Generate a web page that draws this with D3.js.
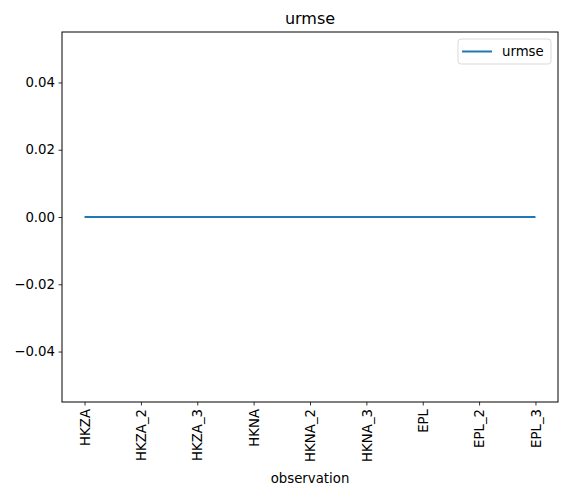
<!DOCTYPE html>
<html>
<head>
<meta charset="utf-8">
<script src="https://d3js.org/d3.v7.min.js"></script>
<style>
  body { margin: 0; background: #fff; }
  text { font-family: "DejaVu Sans", sans-serif; fill: #000; }
</style>
</head>
<body>
<svg id="chart"></svg>
<script>
var categories = ["HKZA", "HKZA_2", "HKZA_3", "HKNA", "HKNA_2", "HKNA_3", "EPL", "EPL_2", "EPL_3"];
var urmse = [0, 0, 0, 0, 0, 0, 0, 0, 0];
var yTicks = [-0.04, -0.02, 0.00, 0.02, 0.04];

const width = 567, height = 496;
const margin = { top: 32, right: 9, bottom: 94, left: 62 };
const plotW = width - margin.left - margin.right;
const plotH = height - margin.top - margin.bottom;

var svg = d3.select("#chart")
    .attr("width", width)
    .attr("height", height);

var g = svg.append("g")
    .attr("transform", `translate(${margin.left},${margin.top})`);

const x = d3.scaleLinear()
    .domain([-0.4, categories.length - 1 + 0.4])
    .range([0, plotW]);

const y = d3.scaleLinear()
    .domain([-0.055, 0.055])
    .range([plotH, 0]);

// axes
var xAxis = d3.axisBottom(x)
    .tickValues(d3.range(categories.length))
    .tickFormat(i => categories[i])
    .tickSizeOuter(0)
    .tickSize(3.5)
    .tickPadding(3.5);

var xg = g.append("g")
    .attr("transform", `translate(0,${plotH})`)
    .call(xAxis);
xg.select(".domain").remove();
xg.selectAll("text")
    .attr("font-size", "13.3px")
    .attr("transform", "rotate(-90)")
    .attr("text-anchor", "end")
    .attr("x", -7)
    .attr("y", 0)
    .attr("dy", "0.35em");

var yAxis = d3.axisLeft(y)
    .tickValues(yTicks)
    .tickFormat(d => d3.format(".2f")(d).replace("-", "\u2212"))
    .tickSizeOuter(0)
    .tickSize(3.5)
    .tickPadding(3.5);

var yg = g.append("g").call(yAxis);
yg.select(".domain").remove();
yg.selectAll("text").attr("font-size", "13.3px");
g.selectAll(".tick line").attr("stroke", "#000").attr("stroke-width", 0.8);

// frame
g.append("rect")
    .attr("width", plotW)
    .attr("height", plotH)
    .attr("fill", "none")
    .attr("stroke", "#000")
    .attr("stroke-width", 1);

// line
var line = d3.line()
    .x((d, i) => x(i))
    .y(d => y(d));

g.append("path")
    .datum(urmse)
    .attr("d", line)
    .attr("fill", "none")
    .attr("stroke", "#1f77b4")
    .attr("stroke-width", 2);

// title
svg.append("text")
    .attr("x", margin.left + plotW / 2)
    .attr("y", 24)
    .attr("text-anchor", "middle")
    .attr("font-size", "16px")
    .text("urmse");

// x label
svg.append("text")
    .attr("x", margin.left + plotW / 2)
    .attr("y", 483)
    .attr("text-anchor", "middle")
    .attr("font-size", "13.3px")
    .text("observation");

// legend
var lg = svg.append("g").attr("transform", "translate(458,39)");
lg.append("rect")
    .attr("width", 93)
    .attr("height", 25)
    .attr("rx", 3)
    .attr("fill", "#fff")
    .attr("fill-opacity", 0.8)
    .attr("stroke", "#d9d9d9");
lg.append("line")
    .attr("x1", 4).attr("x2", 34)
    .attr("y1", 12.5).attr("y2", 12.5)
    .attr("stroke", "#1f77b4")
    .attr("stroke-width", 2);
lg.append("text")
    .attr("x", 44)
    .attr("y", 12.5)
    .attr("dy", "0.35em")
    .attr("font-size", "13.3px")
    .text("urmse");
</script>
</body>
</html>
